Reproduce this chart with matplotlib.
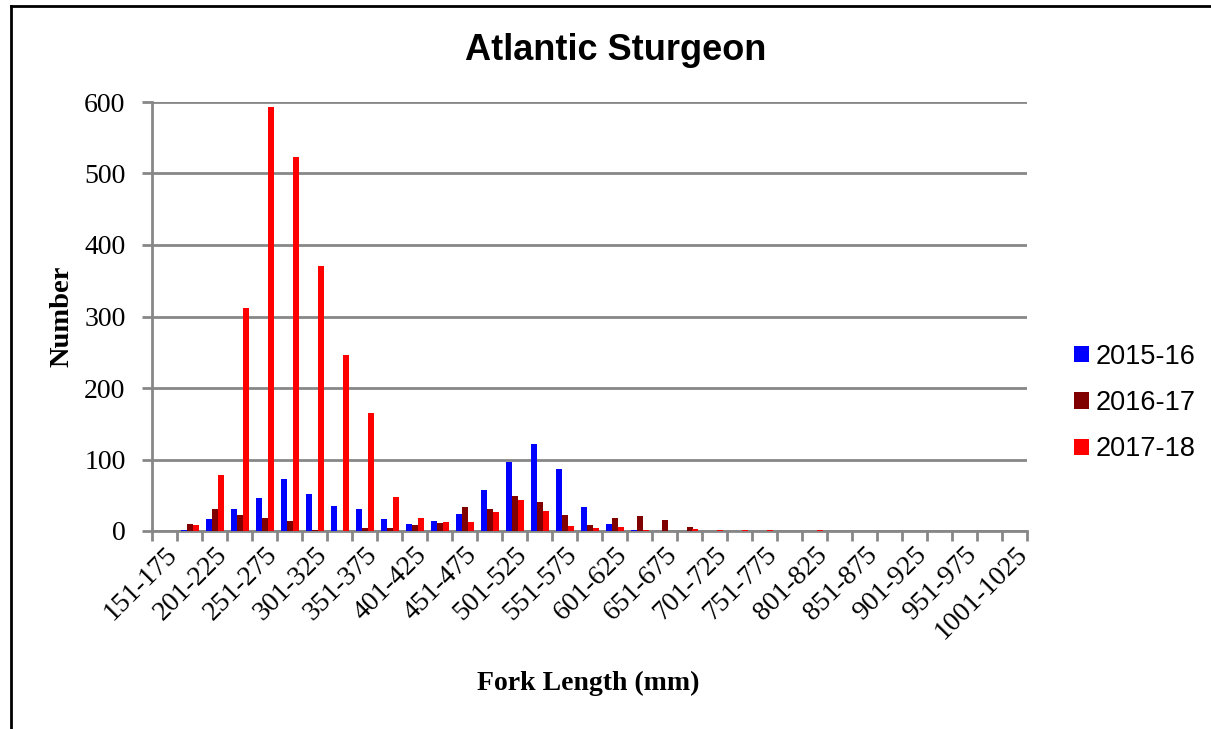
import matplotlib
matplotlib.use("Agg")
import matplotlib.pyplot as plt
from matplotlib.lines import Line2D
import numpy as np

# ---- data ----
categories = [f"{151 + 25*i}-{175 + 25*i}" for i in range(35)]
s2015 = [0, 1, 17, 31, 46, 73, 52, 35, 31, 17, 10, 14, 24, 58, 97, 121, 87, 34, 10, 1,
         0, 0, 0, 0, 0, 0, 0, 0, 0, 0, 0, 0, 0, 0, 0]
s2016 = [0, 10, 31, 22, 18, 14, 1, 0, 4, 4, 8, 11, 34, 31, 49, 41, 22, 8, 18, 21,
         15, 6, 0, 0, 0, 0, 0, 0, 0, 0, 0, 0, 0, 0, 0]
s2017 = [0, 9, 79, 312, 593, 523, 371, 246, 165, 47, 18, 13, 13, 27, 43, 28, 7, 4, 6, 1,
         0, 3, 1, 2, 1, 0, 1, 0, 0, 0, 0, 0, 0, 0, 0]
series_names = ["2015-16", "2016-17", "2017-18"]
series_colors = ["#0000FF", "#800000", "#FF0000"]
yticks = [0, 100, 200, 300, 400, 500, 600]

W, H = 1211, 729
fig = plt.figure(figsize=(W/100, H/100), dpi=100)
ax = fig.add_axes([152/W, 1 - 531/H, (1027-152)/W, (531-102)/H])

x = np.arange(len(categories))
bw = 0.24
bars = []
for k, (vals, c) in enumerate(zip([s2015, s2016, s2017], series_colors)):
    b = ax.bar(x + (k - 1) * bw, vals, width=bw, color=c, zorder=3, label=series_names[k])
    bars.append(b)

ax.set_xlim(-0.5, len(categories) - 0.5)
ax.set_ylim(0, 600)

grey = "#878787"
ax.set_yticks(yticks)
ax.yaxis.grid(True, color=grey, linewidth=2, zorder=0)
ax.set_axisbelow(True)
for side in ["top", "right"]:
    ax.spines[side].set_visible(False)
for side in ["left", "bottom"]:
    ax.spines[side].set_color(grey)
    ax.spines[side].set_linewidth(2)
ax.tick_params(axis="y", length=7, width=2, color=grey, pad=12,
               labelsize=20, labelfontfamily="Liberation Serif")

# x: boundary tick marks, labels at centers (every other)
ax.set_xticks(np.arange(-0.5, len(categories), 1.0), minor=True)
ax.set_xticks(x[::2])
ax.set_xticklabels(categories[::2], rotation=45, ha="right", va="top",
                   rotation_mode="anchor", fontfamily="Liberation Serif", fontsize=20)
ax.tick_params(axis="x", which="major", length=0, pad=8)
ax.tick_params(axis="x", which="minor", length=7, width=2, color=grey)

fig.text(616/W, 1 - 50/H, "Atlantic Sturgeon", ha="center", va="center",
         fontsize=26, fontweight="bold", fontfamily="Liberation Sans")
fig.text(62/W, 1 - 316/H, "Number", rotation=90, ha="center", va="center",
         fontsize=20.5, fontweight="bold", fontfamily="Liberation Serif")
fig.text(588/W, 1 - 683/H, "Fork Length (mm)", ha="center", va="center",
         fontsize=20, fontweight="bold", fontfamily="Liberation Serif")

leg = ax.legend(handles=bars, loc="center left", bbox_to_anchor=(1074/W, 1 - 403/H),
                bbox_transform=fig.transFigure, frameon=False,
                prop={"family": "Liberation Sans", "size": 19.5},
                handlelength=0.55, handleheight=0.55, handletextpad=0.25,
                labelspacing=0.75, borderaxespad=0, borderpad=0)

# figure border (top and left visible)
fig.add_artist(Line2D([11/W, 11/W], [0, 1 - 6/H], transform=fig.transFigure,
                      color="black", linewidth=2))
fig.add_artist(Line2D([11/W, 1], [1 - 6/H, 1 - 6/H], transform=fig.transFigure,
                      color="black", linewidth=2))

fig.savefig("out.png", dpi=100)
